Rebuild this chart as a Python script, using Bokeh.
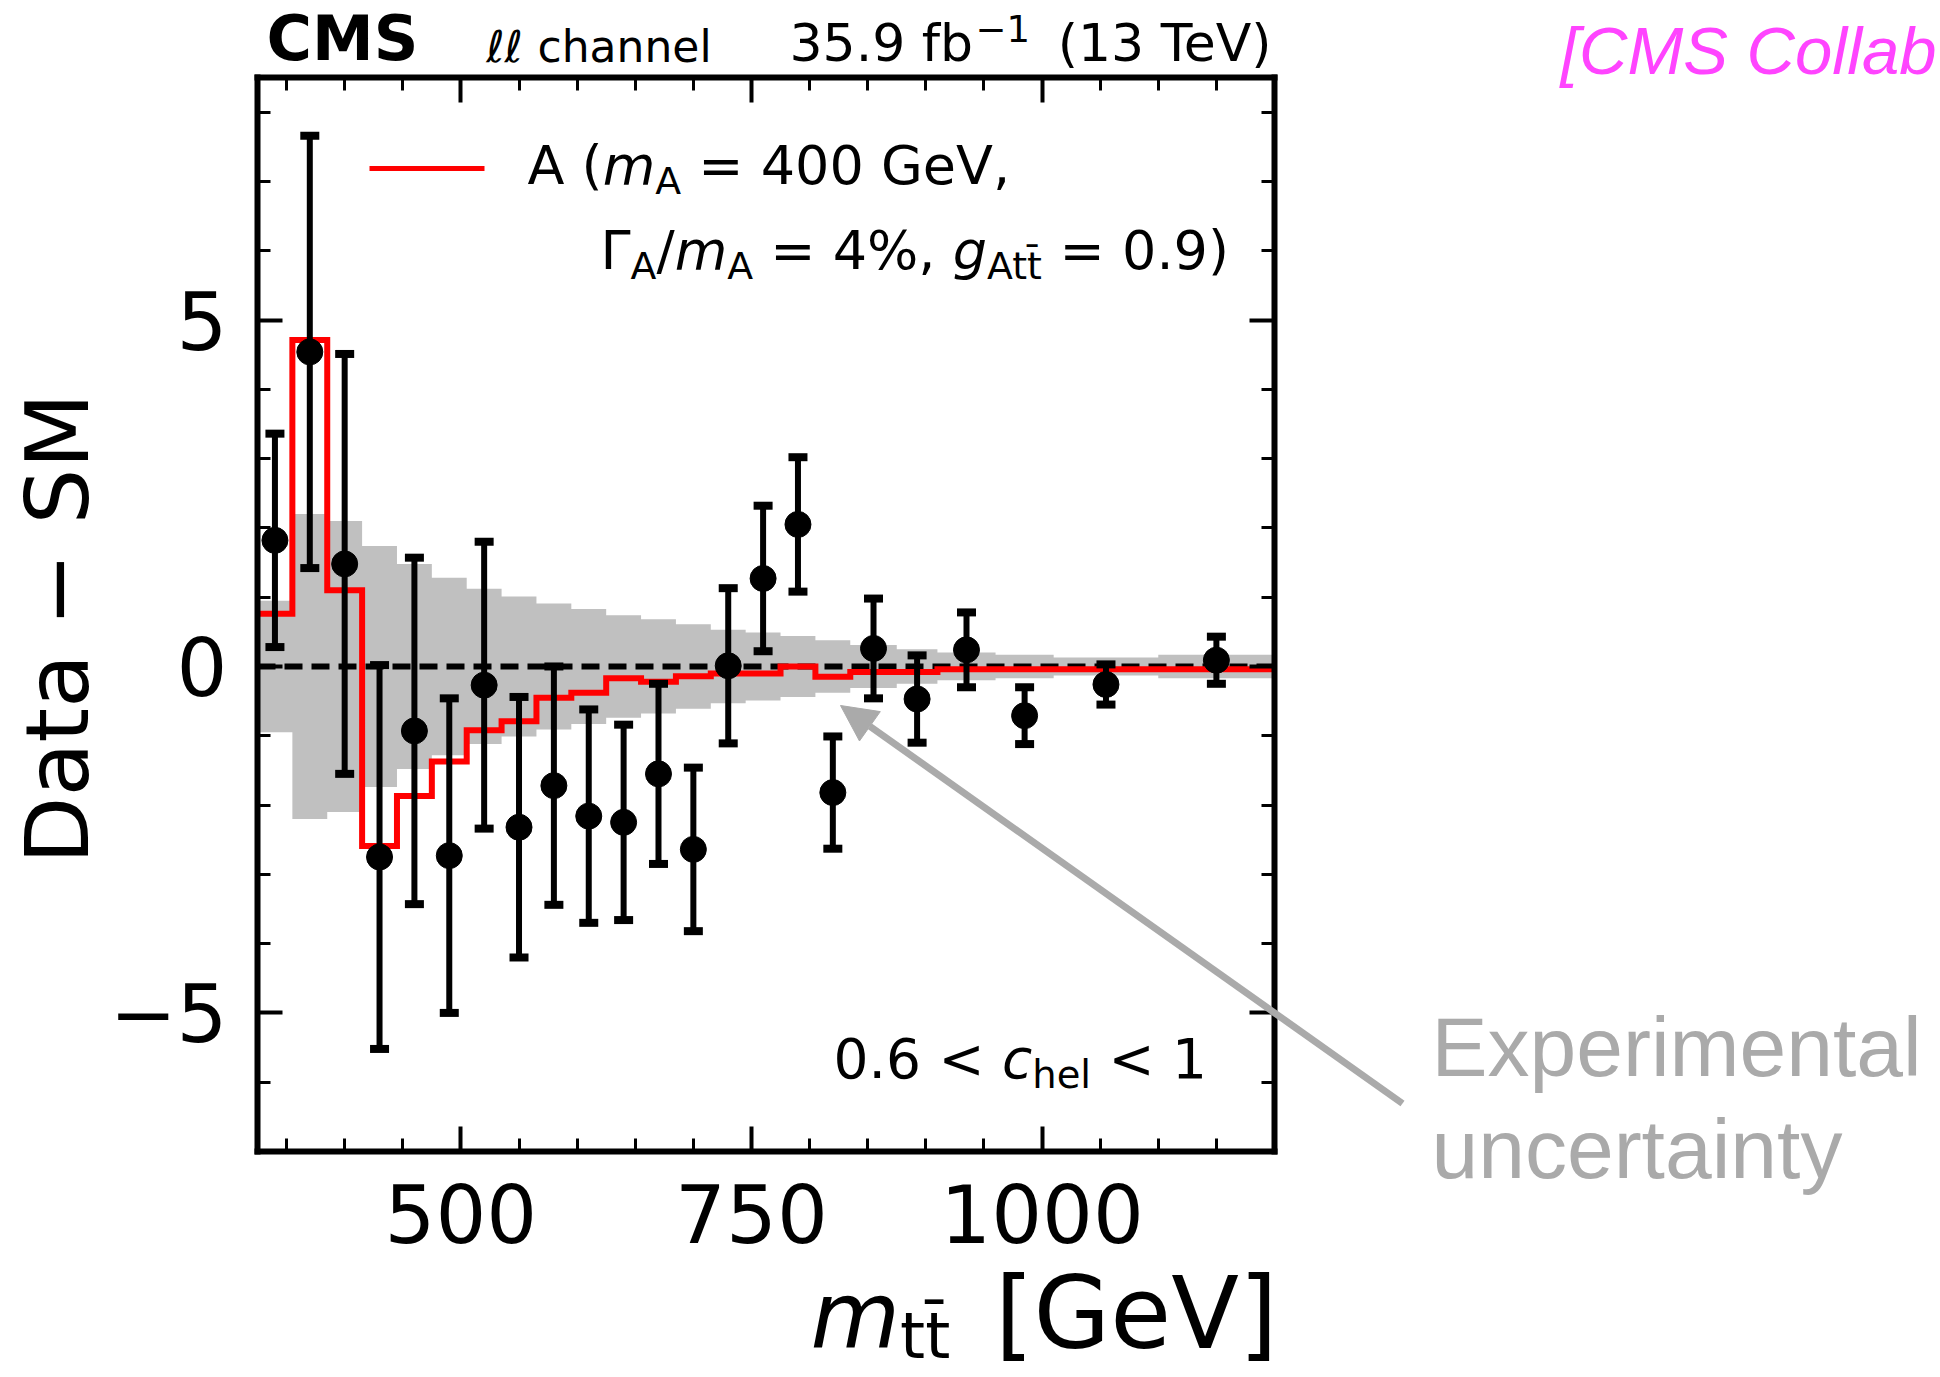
import numpy as np
from bokeh.plotting import figure
from bokeh.models import (Range1d, LinearAxis, FixedTicker, Label, Arrow,
                          NormalHead, CustomJSTickFormatter)
from bokeh.embed import file_html
from bokeh.resources import INLINE

# ---------------- data ----------------
bin_edges = [325, 355, 385, 415, 445, 475, 505, 535, 565, 595, 625, 655, 685,
             715, 745, 775, 805, 835, 875, 910, 960, 1010, 1100, 1200]
data_diff = [1.82, 4.54, 1.48, -2.75, -0.93, -2.73, -0.27, -2.32, -1.72, -2.16,
             -2.25, -1.55, -2.64, 0.01, 1.27, 2.05, -1.82, 0.26, -0.47, 0.24,
             -0.71, -0.26, 0.09]
data_err = [1.54, 3.12, 3.03, 2.77, 2.50, 2.27, 2.07, 1.88, 1.72, 1.54,
            1.41, 1.30, 1.18, 1.12, 1.05, 0.97, 0.81, 0.72, 0.63, 0.54,
            0.41, 0.29, 0.34]
exp_unc = [0.95, 2.20, 2.10, 1.74, 1.48, 1.28, 1.12, 1.01, 0.91, 0.83,
           0.74, 0.68, 0.61, 0.53, 0.49, 0.44, 0.38, 0.31, 0.25, 0.20,
           0.17, 0.13, 0.17]
signal_diff = [0.76, 4.71, 1.10, -2.59, -1.87, -1.37, -0.92, -0.79, -0.45, -0.38,
               -0.17, -0.22, -0.14, -0.10, -0.10, 0.00, -0.15, -0.08, -0.08, -0.04,
               -0.04, -0.04, -0.04]
x_lim = (325, 1200)
y_lim = (-7, 8.5)
x_major_ticks = [500, 750, 1000]
x_minor_ticks = [350, 400, 450, 550, 600, 650, 700, 800, 850, 900, 950, 1050, 1100, 1150]
y_major_ticks = [-5, 0, 5]
y_minor_ticks = [-7, -6, -4, -3, -2, -1, 1, 2, 3, 4, 6, 7, 8]
y_tick_labels = {-5: "\u22125", 0: "0", 5: "5"}

# ---------------- canvas geometry (pixels of the 1940x1377 page) ----------------
W, H = 1940, 1377
FL, FR, FT, FB = 257, 1274, 77, 1151          # the axes box
ppx = (FR - FL) / (x_lim[1] - x_lim[0])
ppy = (FB - FT) / (y_lim[1] - y_lim[0])
x_view = (x_lim[0] - FL / ppx, x_lim[1] + (W - FR) / ppx)
y_view = (y_lim[0] - (H - FB) / ppy, y_lim[1] + FT / ppy)


def dx(px):
    return x_lim[0] + (px - FL) / ppx


def dy(py):
    return y_lim[1] - (py - FT) / ppy


p = figure(width=W, height=H, x_range=Range1d(*x_view), y_range=Range1d(*y_view),
           x_axis_type=None, y_axis_type=None,
           output_backend="svg", toolbar_location=None, min_border=0)
p.background_fill_color = "white"
p.border_fill_color = "white"
p.outline_line_color = None
p.xgrid.visible = False
p.ygrid.visible = False

FONT = "DejaVu Sans"


def make_axis(ticker, loc, bounds, labels, standoff=20):
    ax = LinearAxis(ticker=ticker, fixed_location=loc, bounds=bounds)
    ax.axis_line_color = "black"
    ax.axis_line_width = 6
    ax.axis_line_cap = "square"
    ax.major_tick_in = 25
    ax.major_tick_out = 0
    ax.minor_tick_in = 13
    ax.minor_tick_out = 0
    ax.major_tick_line_width = 4
    ax.minor_tick_line_width = 3
    ax.major_tick_line_color = "black"
    ax.minor_tick_line_color = "black"
    ax.major_label_text_font = FONT
    ax.major_label_text_font_size = "80px"
    ax.major_label_text_color = "black"
    ax.major_label_standoff = standoff
    if not labels:
        ax.formatter = CustomJSTickFormatter(code="return ''")
        ax.major_label_text_font_size = "1px"
        ax.major_label_standoff = 0
    return ax


xt = FixedTicker(ticks=x_major_ticks, minor_ticks=x_minor_ticks)
yt = FixedTicker(ticks=y_major_ticks, minor_ticks=y_minor_ticks)
ax_b = make_axis(xt, y_lim[0], x_lim, True, 32)
ax_l = make_axis(yt, x_lim[0], y_lim, True, 30)
ax_l.major_label_overrides = y_tick_labels
ax_t = make_axis(xt, y_lim[1], x_lim, False)
ax_r = make_axis(yt, x_lim[1], y_lim, False)
p.add_layout(ax_b, "below")
p.add_layout(ax_l, "left")
p.add_layout(ax_t, "above")
p.add_layout(ax_r, "right")

# ---------------- glyphs ----------------
edges = np.array(bin_edges, dtype=float)
centers = 0.5 * (edges[:-1] + edges[1:])
unc = np.array(exp_unc)
step_x = np.repeat(edges, 2)[1:-1]
step_up = np.repeat(unc, 2)
band_x = np.concatenate([step_x, step_x[::-1]])
band_y = np.concatenate([step_up, -step_up[::-1]])
p.patch(band_x, band_y, fill_color="#c0c0c0", line_color=None)

p.line(x=list(x_lim), y=[0, 0], line_color="black", line_width=6, line_dash="18 9")

sig = list(signal_diff) + [signal_diff[-1]]
p.step(x=edges, y=sig, mode="after", line_color="#ff0000", line_width=6,
       line_join="miter")

dd = np.array(data_diff)
de = np.array(data_err)
p.segment(x0=centers, y0=dd - de, x1=centers, y1=dd + de, line_color="black", line_width=6)
p.scatter(x=np.concatenate([centers, centers]), y=np.concatenate([dd - de, dd + de]),
          marker="dash", size=19, line_width=8, line_color="black")
p.scatter(x=centers, y=dd, marker="circle", size=26, fill_color="black", line_color="black")

# ---------------- text helpers ----------------
CW = {' ': 0.318, 'A': 0.684, '(': 0.390, ')': 0.390, '=': 0.838, 'G': 0.775,
      'e': 0.615, 'V': 0.684, ',': 0.318, '%': 0.950, '.': 0.318, '<': 0.838,
      '/': 0.337, '\u0393': 0.557, '[': 0.390, ']': 0.390, 't': 0.392, 'c': 0.550,
      'h': 0.634, 'l': 0.278, 'm': 0.974, 'g': 0.635, '\u2113': 0.42, '\u0304': 0.0}
for d in "0123456789":
    CW[d] = 0.636
BASE = 0.41   # offset between a Label's anchor and the text baseline, in em


def tw(s, size):
    return sum(CW.get(ch, 0.6) for ch in s) * size


def lab(px, py, text, size, style="normal", color="black", align="left",
        font=FONT, angle=0):
    """px: anchor x, py: baseline y (page pixels)."""
    y = dy(py - BASE * size) if angle == 0 else dy(py)
    p.add_layout(Label(x=dx(px), y=y, text=text, text_font=font,
                       text_font_size=f"{size}px", text_font_style=style,
                       text_color=color, text_align=align,
                       text_baseline="alphabetic", angle=angle, angle_units="deg"))


def run(px, py, segs, size):
    x = px
    for text, kind in segs:
        s = size * 0.7 if kind == "sub" else size
        lead = len(text) - len(text.lstrip(" "))
        x += lead * CW[' '] * s
        body = text.strip(" ")
        if kind == "sub":
            lab(x, py + 0.16 * size, body, round(s, 1))
        else:
            lab(x, py, body, s, style=("italic" if kind == "i" else "normal"))
        x += tw(text.lstrip(" "), s)
    return x


# header
lab(266, 63, "CMS", 62, style="bold")
lab(486, 64, "\u2113\u2113", 44, style="italic")
lab(537, 64, "channel", 44)
lab(789, 64, "35.9 fb", 52)
lab(975, 43, "\u22121", 37)
lab(1271, 64, "(13 TeV)", 52, align="right")

# legend
p.line(x=[dx(369), dx(484)], y=[dy(168), dy(168)], line_color="#ff0000", line_width=5)
run(527, 187, [("A (", "n"), ("m", "i"), ("A", "sub"), (" = 400 GeV,", "n")], 54)
run(600, 272, [("\u0393", "n"), ("A", "sub"), ("/", "n"), ("m", "i"), ("A", "sub"),
               (" = 4%, ", "n"), ("g", "i"), ("Att\u0304", "sub"), (" = 0.9)", "n")], 54)

# region label
run(833, 1081, [("0.6 < ", "n"), ("c", "i"), ("hel", "sub"), (" < 1", "n")], 55)

# axis titles
lab(57, 628, "Data \u2212 SM", 88, align="center", angle=90)
xm = 810
x_base = 1354
lab(xm, x_base, "m", 92, style="italic")
lab(xm + tw("m", 92), x_base + 8, "tt\u0304", 64)
lab(1277, x_base, "[GeV]", 99, align="right")

# annotation
p.add_layout(Arrow(end=NormalHead(size=36, fill_color="#aaaaaa", line_color="#aaaaaa"),
                   x_start=dx(1402), y_start=dy(1103), x_end=dx(840), y_end=dy(705),
                   line_color="#aaaaaa", line_width=7))
lab(1431, 1081, "Experimental", 84, color="#aaaaaa", font="Liberation Sans")
lab(1431, 1183, "uncertainty", 84, color="#aaaaaa", font="Liberation Sans")
lab(1560, 77, "[CMS Collab", 67, style="italic", color="#ff44ff",
    font="Liberation Sans")

open("out.html", "w").write(file_html(p, INLINE))
